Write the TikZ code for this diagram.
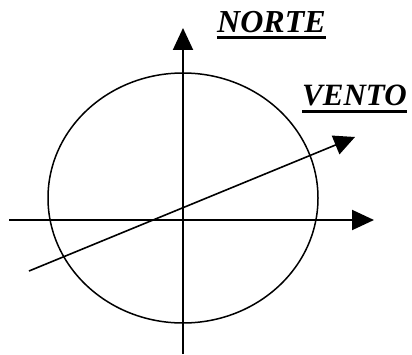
\documentclass[tikz,border=0pt]{standalone}
\usepackage{fontspec}
\setmainfont{Liberation Serif}
\usetikzlibrary{arrows.meta}
\begin{document}
\begin{tikzpicture}[x=1pt,y=1pt,
  axis/.style={line width=2pt,-{Triangle[length=22pt,width=20pt]}},
  windline/.style={line width=1.6pt,-{Triangle[length=21pt,width=20pt]}},
  lbl/.style={inner sep=0pt,font=\fontsize{32}{32}\selectfont\bfseries\itshape},
  uline/.style={line width=3pt}]
\useasboundingbox (0,0) rectangle (412,354);
\draw[line width=1.5pt] (183,156) ellipse [x radius=135, y radius=125];
\coordinate (vb) at (183,0);
\coordinate (vt) at (183,326);
\coordinate (hl) at (9,134);
\coordinate (hr) at (374,134);
\coordinate (ws) at (29,83);
\coordinate (wt) at (355,217);
\draw[axis] (vb) -- (vt);
\draw[axis] (hl) -- (hr);
\draw[windline] (ws) -- (wt);
\node[lbl,anchor=base west] (norte) at (217,321) {NORTE};
\draw[uline] (norte.west |- 0,316) -- (norte.east |- 0,316);
\node[lbl,anchor=base west,font=\fontsize{31}{31}\selectfont\bfseries\itshape] (vento) at (302,248) {VENTO};
\draw[uline] (vento.west |- 0,242) -- (vento.east |- 0,242);
\end{tikzpicture}
\end{document}
